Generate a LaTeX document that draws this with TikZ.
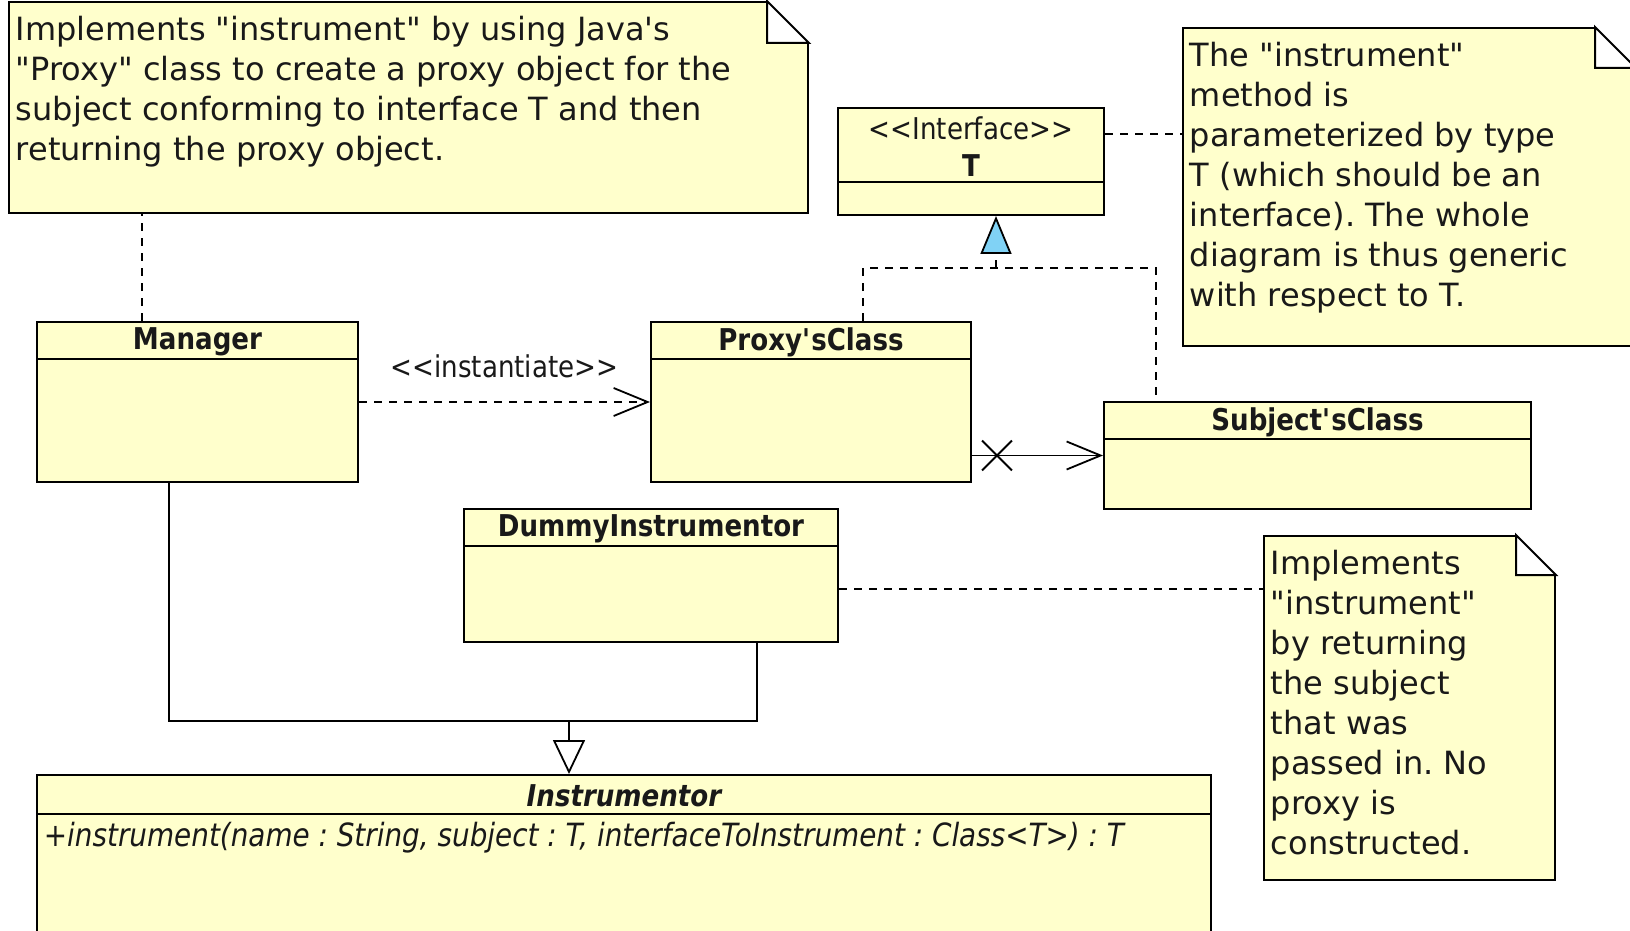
\documentclass[tikz,border=0pt]{standalone}
\usepackage{fontspec}
\setmainfont{DejaVu Sans}
\newfontfamily\classfont{DejaVu Sans}[FakeStretch=0.87]
\usetikzlibrary{arrows.meta,shapes.misc}
\frenchspacing

\definecolor{notefill}{RGB}{255,255,204}
\definecolor{realblue}{RGB}{128,210,245}

\newcommand{\q}{\textquotedbl}

\tikzset{
  classbox/.style={draw, fill=notefill, line width=1pt, anchor=north west, inner sep=0pt},
  classtitle/.style={inner sep=0pt, align=center, text=black!90,
    font=\classfont\fontsize{15pt}{18.5pt}\selectfont\bfseries},
  optext/.style={anchor=west, inner sep=0pt, text=black!90,
    font=\classfont\fontsize{16pt}{20pt}\selectfont\itshape},
  notebox/.style={draw, fill=notefill, line width=1pt, anchor=north west, inner sep=0pt},
  notetext/.style={anchor=north west, inner sep=0pt, align=left, text=black!90,
    font=\fontsize{16pt}{20pt}\selectfont},
  notelink/.style={dash pattern=on 4pt off 3.5pt},
  dep/.style={notelink, -{Straight Barb[length=17pt,width=14pt]}},
  nav/.style={-{Straight Barb[length=17pt,width=14pt]}},
  realize/.style={notelink},
  crossmark/.style={cross out, draw, minimum size=14pt, inner sep=0pt},
  steretext/.style={text=black!90, font=\classfont\fontsize{15pt}{18pt}\selectfont}
}

% class box: name, corner, width, height, header height, title
\newcommand{\umlclass}[6]{%
  \node[classbox, minimum width=#3, minimum height=#4] (#1) at (#2) {};
  \draw ([yshift=-#5]#1.north west) -- ([yshift=-#5]#1.north east);
  \node[classtitle] (#1-title) at ([yshift=-#5/2-1pt]#1.north) {#6};}

% note with folded corner: name, corner, width, height, fold, text
\newcommand{\umlnote}[6]{%
  \node[notebox, minimum width=#3, minimum height=#4] (#1) at (#2) {};
  \fill[white] ([xshift=-#5,yshift=-#5]#1.north east) rectangle ([xshift=2pt,yshift=2pt]#1.north east);
  \draw[line width=1pt, fill=white] ([xshift=-#5]#1.north east) -- ([xshift=-#5,yshift=-#5]#1.north east)
    -- ([yshift=-#5]#1.north east) -- cycle;
  \node[notetext] (#1-text) at ([xshift=3.5pt,yshift=-7pt]#1.north west) {#6};}

\begin{document}
\begin{tikzpicture}[x=0.5pt, y=-0.5pt, line width=0.9pt]
  \useasboundingbox (0,0) rectangle (1630,931);

  \umlclass{manager}{36,321}{160.5pt}{80pt}{19pt}{Manager}
  \umlclass{proxy}{650,321}{160pt}{80pt}{19pt}{Proxy\textquotesingle sClass}
  \umlclass{subject}{1103,401}{213.5pt}{53.5pt}{19pt}{Subject\textquotesingle sClass}
  \umlclass{iface}{837,107}{133pt}{53.5pt}{37.5pt}{{\mdseries <<Interface>>}\\T}
  \umlclass{dummy}{463,508}{187pt}{66.5pt}{19pt}{DummyInstrumentor}
  \umlclass{instr}{36,774}{587pt}{100pt}{20pt}{\itshape Instrumentor}
  \node[optext] (instr-op) at ([xshift=3.5pt,yshift=-32pt]instr.north west)
    {+instrument(name : String, subject : T, interfaceToInstrument : Class<T>) : T};

  \umlnote{topnote}{8,1}{399.5pt}{105.5pt}{21pt}{Implements \q instrument\q{} by using Java\textquotesingle s\\\q Proxy\q{} class to create a proxy object for the\\subject conforming to interface T and then\\returning the proxy object.}
  \umlnote{rightnote}{1182,27}{226pt}{159pt}{20.5pt}{The \q instrument\q\\method is\\parameterized by type\\T (which should be an\\interface). The whole\\diagram is thus generic\\with respect to T.}
  \umlnote{botnote}{1263,535}{145.5pt}{172pt}{20pt}{Implements\\\q instrument\q\\by returning\\the subject\\that was\\passed in. No\\proxy is\\constructed.}

  % note links
  \draw[notelink] ([xshift=53pt]manager.north west) -- ([xshift=53pt]manager.north west |- topnote.south);
  \draw[notelink] ([yshift=13.75pt]iface.east) -- ([yshift=13.75pt]iface.east -| rightnote.west);
  \draw[notelink] ([yshift=-6.75pt]dummy.east) -- ([yshift=-6.75pt]dummy.east -| botnote.west);

  \draw[dep] (manager) -- node[steretext, above=8.5pt] (inst) {<<instantiate>>} (proxy);

  \coordinate (navstart) at (proxy.east |- subject.west);
  \draw[nav] (navstart) -- (subject.west);
  \node[crossmark] (xmark) at ([xshift=12.5pt]navstart) {};

  % realization of T
  \coordinate (rj) at (996,268);
  \draw[realize] ([xshift=106.5pt]proxy.north west) |- (rj) -| ([xshift=26.5pt]subject.north west);
  \draw[realize, -{Triangle[length=19pt,width=15.5pt,fill=realblue]}] (rj) -- (rj |- iface.south);

  % generalization
  \coordinate (gj) at (569,721);
  \draw ([xshift=66.5pt]manager.south west) |- (gj) -| ([xshift=147pt]dummy.south west);
  \draw[-{Triangle[length=17pt,width=16pt,fill=white]}] (gj) -- (gj |- instr.north);
\end{tikzpicture}
\end{document}
